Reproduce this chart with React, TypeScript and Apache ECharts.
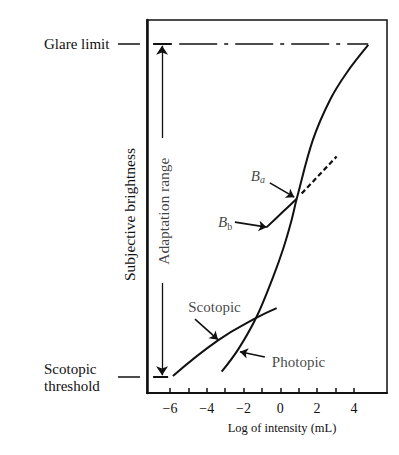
import React, { useEffect, useRef } from "react";
import * as echarts from "echarts";

// ---- data (log intensity x, subjective brightness y: 0 = scotopic threshold, 100 = glare limit)
const xTickValues = [-6, -5, -4, -3, -2, -1, 0, 1, 2, 3, 4];
const xLabelValues = [-6, -4, -2, 0, 2, 4];
const yLevelValues = [0, 100];
const yLevelNames = ["Scotopic\nthreshold", "Glare limit"];

const photopicX = [-3.19, -2.29, -1.29, -0.39, 0.16, 0.61, 0.89, 1.77, 2.7, 3.6, 4.78];
const photopicY = [1.6, 8.3, 18.1, 30.1, 38.6, 47.1, 53.5, 71.2, 83.2, 91.3, 99.7];

const scotopicX = [-5.84, -3.39, -1.29, -0.2];
const scotopicY = [0.3, 11.0, 17.8, 20.7];

const bbX = [-0.74, 0.14, 0.89];
const bbY = [45.0, 49.6, 53.5];

const bbExtX = [1.16, 3.06];
const bbExtY = [55.1, 66.2];

const glareX = [-5.5, 4.78];
const glareY = [100, 100];

const adaptX = -6.43;
const adaptBarX = [-6.92, -5.9];
const adaptBarBottomX = [-6.92, -6.1];
const adaptTop = [100, 71.8];
const adaptBottom = [28.2, 0];

// level marks left of the axis (glare limit / scotopic threshold)
const levelMarkX = [-8.83, -7.63];

// annotation arrows: [fromX, fromY, toX, toY]
const arrowScotopic = [-4.64, 17.4, -3.39, 11.2];
const arrowPhotopic = [-0.84, 6.0, -2.2, 7.6];
const arrowBa = [-0.57, 58.3, 0.76, 54.0];
const arrowBb = [-2.47, 46.5, -0.74, 45.0];

const FONT = "'Liberation Serif', 'Times New Roman', serif";

const zip = (xs: number[], ys: number[]) => xs.map((x, i) => [x, ys[i]]);

export default function App() {
  const ref = useRef<HTMLDivElement>(null);

  useEffect(() => {
    if (!ref.current) return;
    const chart = echarts.init(ref.current, null, { renderer: "svg" });
    const black = "#111";

    const lineSeries = (data: number[][], extra: any = {}) => ({
      type: "line",
      data,
      showSymbol: false,
      symbol: "none",
      silent: true,
      lineStyle: { color: black, width: 2, ...(extra.lineStyle || {}) },
      smooth: extra.smooth ?? false,
      z: 3,
    });

    const arrow = (a: number[]) => ({
      coords: [
        [a[0], a[1]],
        [a[2], a[3]],
      ],
    });

    const option: any = {
      animation: false,
      backgroundColor: "#fff",
      textStyle: { fontFamily: FONT, color: black },
      grid: {
        left: 147,
        right: 12,
        top: 20,
        bottom: 62,
        show: true,
        borderColor: black,
        borderWidth: 1.5,
      },
      xAxis: {
        type: "value",
        min: -7.25,
        max: 5.8,
        axisLine: { show: true, onZero: false, lineStyle: { color: black, width: 2 } },
        axisTick: {
          show: true,
          inside: true,
          length: 5,
          customValues: xTickValues,
          lineStyle: { color: black, width: 1.5 },
        },
        axisLabel: {
          customValues: xLabelValues,
          formatter: (v: number) => String(v).replace("-", "\u2212"),
          color: black,
          fontSize: 14,
          fontFamily: FONT,
          margin: 8,
        },
        splitLine: { show: false },
        name: "Log of intensity (mL)",
        nameLocation: "middle",
        nameGap: 28,
        nameTextStyle: { fontSize: 12.5, fontFamily: FONT, color: black, padding: [0, 0, 0, 30] },
      },
      yAxis: [
        {
          type: "value",
          min: -4.8,
          max: 107.2,
          axisLine: { show: true, onZero: false, lineStyle: { color: black, width: 2.5 } },
          axisTick: { show: false },
          axisLabel: { show: false },
          splitLine: { show: false },
          name: "Subjective brightness",
          nameLocation: "middle",
          nameRotate: 90,
          nameGap: 10,
          nameTextStyle: { fontSize: 15.5, fontFamily: FONT, color: black, padding: [0, 16, 0, 0] },
        },
        {
          type: "value",
          position: "left",
          offset: 7,
          min: -4.8,
          max: 107.2,
          axisLine: { show: false },
          axisTick: { show: false },
          axisLabel: {
            customValues: yLevelValues,
            formatter: (v: number) => yLevelNames[yLevelValues.indexOf(v)],
            align: "left",
            margin: 96,
            fontSize: 15,
            lineHeight: 17,
            fontFamily: FONT,
            color: black,
          },
          splitLine: { show: false },
        },
      ],
      series: [
        lineSeries(zip(photopicX, photopicY), { smooth: 0.35 }),
        lineSeries(zip(scotopicX, scotopicY), { smooth: 0.45 }),
        lineSeries(zip(bbX, bbY), { smooth: 0.3 }),
        lineSeries(zip(bbExtX, bbExtY), { lineStyle: { type: [5, 3], width: 2.2 } }),
        lineSeries(zip(glareX, glareY), { lineStyle: { type: [38, 7, 4, 7], width: 1.5 } }),
        lineSeries(zip(adaptBarX, [100, 100]), { lineStyle: { width: 2 } }),
        lineSeries(zip(adaptBarBottomX, [0, 0]), { lineStyle: { width: 2 } }),
        {
          type: "lines",
          coordinateSystem: "cartesian2d",
          silent: true,
          clip: false,
          symbol: ["none", "none"],
          lineStyle: { color: black, width: 1.5, opacity: 1 },
          data: yLevelValues.map((v) => ({ coords: [[levelMarkX[0], v], [levelMarkX[1], v]] })),
          z: 4,
        },
        {
          type: "lines",
          coordinateSystem: "cartesian2d",
          silent: true,
          symbol: ["none", "arrow"],
          symbolSize: 9,
          lineStyle: { color: black, width: 1.3, opacity: 1 },
          data: [
            { coords: [[adaptX, adaptTop[1]], [adaptX, adaptTop[0] - 0.5]] },
            { coords: [[adaptX, adaptBottom[0]], [adaptX, adaptBottom[1] + 0.5]] },
          ],
          z: 4,
        },
        {
          type: "lines",
          coordinateSystem: "cartesian2d",
          silent: true,
          symbol: ["none", "arrow"],
          symbolSize: 8,
          lineStyle: { color: black, width: 1.6, opacity: 1 },
          data: [arrow(arrowScotopic), arrow(arrowPhotopic), arrow(arrowBa), arrow(arrowBb)],
          z: 4,
        },
        {
          type: "scatter",
          silent: true,
          symbolSize: 0,
          itemStyle: { color: "transparent" },
          label: {
            show: true,
            fontFamily: FONT,
            color: black,
            fontSize: 15,
            formatter: (p: any) => p.data.text,
          },
          data: [
            { value: [-3.58, 20.9], text: "Scotopic" },
            { value: [-0.46, 4.5], text: "Photopic", label: { align: "left" } },
            {
              value: [-1.22, 60.4],
              text: "{i|B}{s|a}",
              label: {
                rich: {
                  i: { fontStyle: "italic", fontSize: 15, fontFamily: FONT, color: black },
                  s: { fontStyle: "italic", fontSize: 10, fontFamily: FONT, color: black, padding: [8, 0, 0, 0] },
                },
              },
            },
            {
              value: [-3.0, 46.5],
              text: "{i|B}{s|b}",
              label: {
                rich: {
                  i: { fontStyle: "italic", fontSize: 15, fontFamily: FONT, color: black },
                  s: { fontSize: 10, fontFamily: FONT, color: black, padding: [8, 0, 0, 0] },
                },
              },
            },
            {
              value: [-6.38, 49.8],
              text: "Adaptation range",
              label: { rotate: 90, fontSize: 15.5 },
            },
          ],
          z: 5,
        },
      ],
    };

    chart.setOption(option);
    return () => chart.dispose();
  }, []);

  return (
    <div
      ref={ref}
      style={{ position: "fixed", left: 0, top: 0, width: 399, height: 455, background: "#fff" }}
    />
  );
}
